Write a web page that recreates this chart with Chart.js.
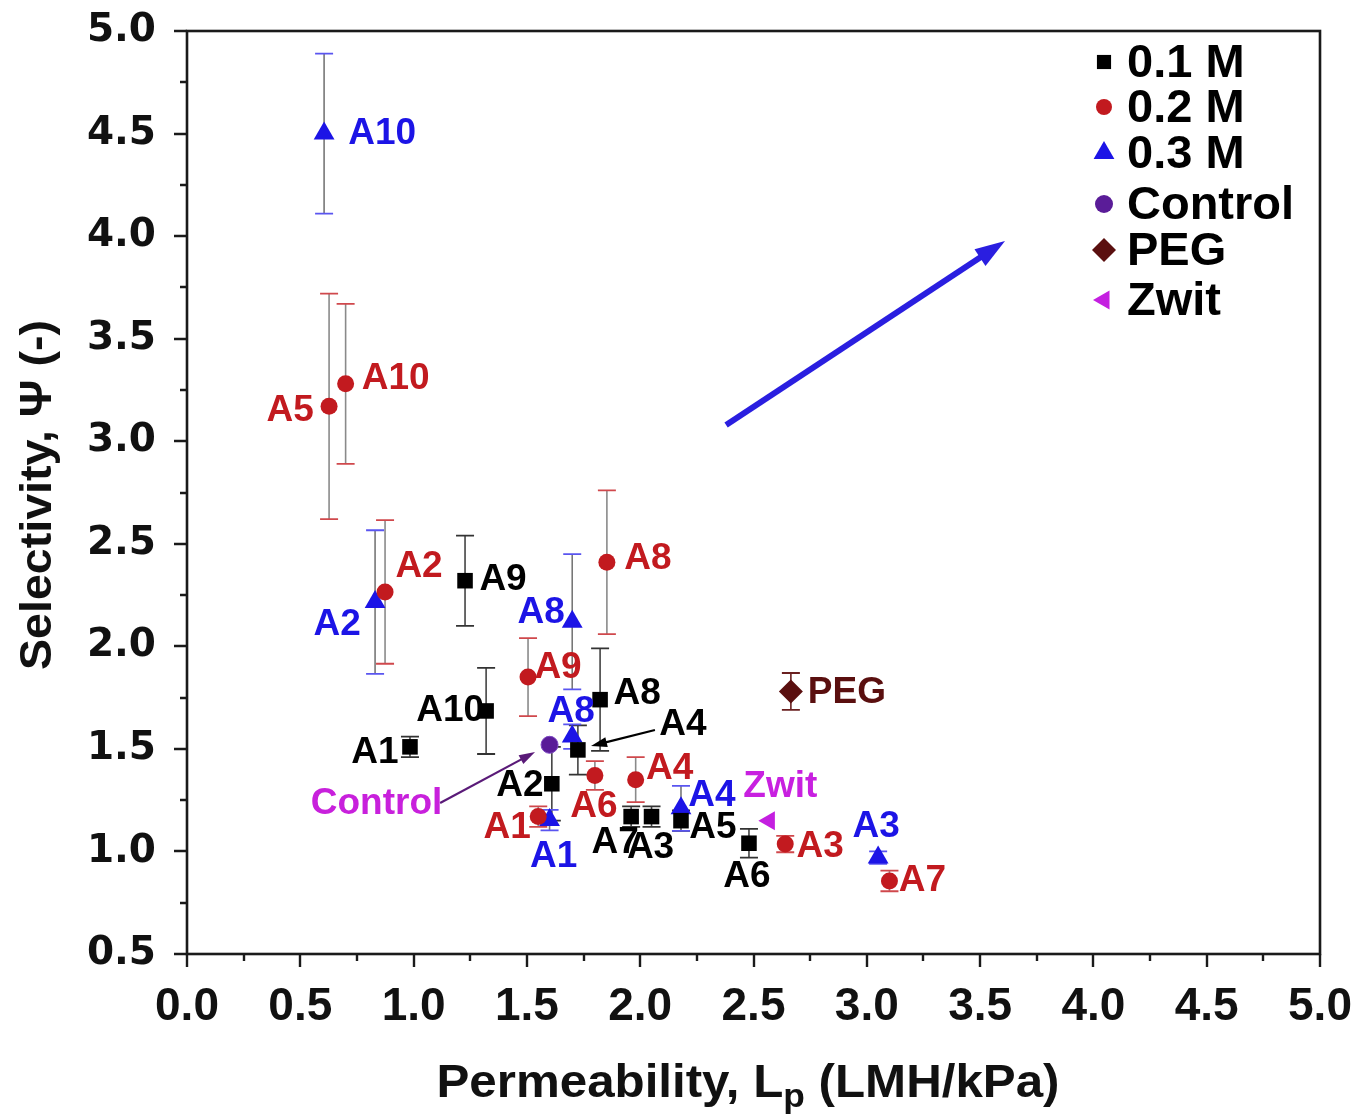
<!DOCTYPE html>
<html><head><meta charset="utf-8">
<script src="https://cdn.jsdelivr.net/npm/chart.js@4.4.1/dist/chart.umd.min.js"></script>
<style>html,body{margin:0;padding:0;background:#fff}#wrap{width:1371px;height:1117px;position:relative}canvas{display:block}</style>
</head><body><div id="wrap"><canvas id="c" width="1371" height="1117" style="width:1371px;height:1117px"></canvas></div>
<script>
// ---------- DATA ----------
const xTickVals = [0,0.5,1,1.5,2,2.5,3,3.5,4,4.5,5];
const xTickLabels = ["0.0","0.5","1.0","1.5","2.0","2.5","3.0","3.5","4.0","4.5","5.0"];
const yTickVals = [0.5,1,1.5,2,2.5,3,3.5,4,4.5,5];
const yTickLabels = ["0.5","1.0","1.5","2.0","2.5","3.0","3.5","4.0","4.5","5.0"];

const seriesNames = ["0.1 M","0.2 M","0.3 M","Control","PEG","Zwit"];

const names01 = ["A1","A2","A3","A4","A5","A6","A7","A8","A9","A10"];
const lp01    = [0.984,1.61,2.05,1.725,2.18,2.48,1.96,1.823,1.227,1.32];
const sel01   = [1.51,1.33,1.17,1.495,1.15,1.04,1.17,1.74,2.32,1.685];
const err01   = [0.05,0.18,0.05,0.12,0.05,0.07,0.05,0.25,0.22,0.21];

const names02 = ["A1","A2","A3","A4","A5","A6","A7","A8","A9","A10"];
const lp02    = [1.55,0.874,2.64,1.98,0.627,1.80,3.10,1.853,1.505,0.70];
const sel02   = [1.17,2.265,1.036,1.35,3.17,1.37,0.856,2.41,1.85,3.28];
const err02   = [0.05,0.35,0.04,0.11,0.55,0.07,0.05,0.35,0.19,0.39];

const names03 = ["A1","A2","A3","A4","A8","A8","A10"];
const lp03    = [1.60,0.83,3.05,2.18,1.70,1.70,0.605];
const sel03   = [1.153,2.216,0.97,1.21,2.12,1.56,4.50];
const err03   = [0.05,0.35,0.03,0.11,0.33,0.06,0.39];

const namesCtrl = ["Control"]; const lpCtrl = [1.60]; const selCtrl = [1.52]; const errCtrl = [0];
const namesPeg  = ["PEG"];     const lpPeg  = [2.665]; const selPeg = [1.78]; const errPeg = [0.09];
const namesZw   = ["Zwit"];    const lpZw   = [2.57]; const selZw  = [1.15]; const errZw = [0];

// annotation arrows in data units: [fromX, fromY, toX, toY]
const arrowTrend   = [2.379, 3.079, 3.61, 3.976];
const arrowControl = [1.117, 1.236, 1.536, 1.485];
const arrowA4      = [2.065, 1.592, 1.783, 1.514];

// ---------- STYLE ----------
const COL = { k:'#000000', r:'#c21a1f', b:'#1c14e6', ctrl:'#5a1c98', peg:'#5a0f0f', zw:'#c41fe0' };
const labelColors = ['#000000','#c21a1f','#1c14e6','#c820dc','#5a0f0f','#c820e0'];
const labelOffsets = [
  [[-35,5],[-32,1],[-1,30],[105,-26],[32,6],[-2,33],[-16,25],[37,-7],[38,-2],[-36,-1]],
  [[-31,10],[34,-26],[35,2],[34,-12],[-39,3],[-1,30],[33,-1],[41,-4],[30,-10],[50,-6]],
  [[4,36],[-38,22],[-2,-32],[31,-14],[-31,-10],[-1,-26],[58,-1]],
  [[-173,58]],
  [[56,0]],
  [[11,-35]]
];
const errCapColors = ['#333333','#d0484c','#5a55f0','#555555','#6a2020','#555555'];
const errLineColors = ['#444444','#8a8a8a','#777777','#555555','#6a2020','#555555'];
const legendRows = [62,107,153,204,250,300];

const namesAll = [names01,names02,names03,namesCtrl,namesPeg,namesZw];
const errAll = [err01,err02,err03,errCtrl,errPeg,errZw];

function pts(xs, ys){ return xs.map((x,i)=>({x:x, y:ys[i]})); }

const FONT = "'Liberation Sans', Arial, sans-serif";

function drawArrow(ctx, x1,y1,x2,y2, color, lw, hl, hw){
  const ang = Math.atan2(y2-y1, x2-x1);
  const bx = x2 - hl*Math.cos(ang), by = y2 - hl*Math.sin(ang);
  ctx.save();
  ctx.strokeStyle = color; ctx.fillStyle = color; ctx.lineWidth = lw; ctx.lineCap='butt';
  ctx.beginPath(); ctx.moveTo(x1,y1); ctx.lineTo(bx + Math.cos(ang)*2, by + Math.sin(ang)*2); ctx.stroke();
  ctx.beginPath();
  ctx.moveTo(x2,y2);
  ctx.lineTo(bx + hw/2*Math.sin(ang), by - hw/2*Math.cos(ang));
  ctx.lineTo(bx - hw/2*Math.sin(ang), by + hw/2*Math.cos(ang));
  ctx.closePath(); ctx.fill();
  ctx.restore();
}

function zeroPad(s){ s.paddingTop = 0; s.paddingBottom = 0; s.paddingLeft = 0; s.paddingRight = 0; }

const overlay = {
  id: 'overlay',
  beforeDatasetsDraw(chart){
    const ctx = chart.ctx, xs = chart.scales.x, ys = chart.scales.y;
    ctx.save();
    chart.data.datasets.forEach((ds, si) => {
      const errs = errAll[si];
      ds.data.forEach((p, i) => {
        const e = errs[i]; if (!e) return;
        const px = xs.getPixelForValue(p.x);
        const pt = ys.getPixelForValue(p.y + e), pb = ys.getPixelForValue(p.y - e);
        ctx.strokeStyle = errLineColors[si]; ctx.lineWidth = 1.6;
        ctx.beginPath(); ctx.moveTo(px, pt); ctx.lineTo(px, pb); ctx.stroke();
        ctx.strokeStyle = errCapColors[si]; ctx.lineWidth = 1.8;
        ctx.beginPath(); ctx.moveTo(px-9, pt); ctx.lineTo(px+9, pt); ctx.moveTo(px-9, pb); ctx.lineTo(px+9, pb); ctx.stroke();
      });
    });
    ctx.restore();
  },
  afterDatasetsDraw(chart){
    const ctx = chart.ctx, xs = chart.scales.x, ys = chart.scales.y;
    const A = (a)=>[xs.getPixelForValue(a[0]), ys.getPixelForValue(a[1]), xs.getPixelForValue(a[2]), ys.getPixelForValue(a[3])];
    let t = A(arrowTrend); drawArrow(ctx, t[0],t[1],t[2],t[3], '#2a1ee0', 6, 30, 20);
    t = A(arrowControl); drawArrow(ctx, t[0],t[1],t[2],t[3], '#5a1a78', 2.2, 16, 10);
    t = A(arrowA4); drawArrow(ctx, t[0],t[1],t[2],t[3], '#000000', 2.2, 16, 10);
    ctx.save();
    ctx.font = "bold 37px " + FONT; ctx.textAlign = 'center'; ctx.textBaseline = 'middle';
    chart.data.datasets.forEach((ds, si) => {
      ctx.fillStyle = labelColors[si];
      ds.data.forEach((p, i) => {
        const o = labelOffsets[si][i];
        ctx.fillText(namesAll[si][i], xs.getPixelForValue(p.x) + o[0], ys.getPixelForValue(p.y) + o[1] + 1);
      });
    });
    ctx.restore();
  },
  afterDraw(chart){
    const ctx = chart.ctx, a = chart.chartArea, xs = chart.scales.x, ys = chart.scales.y;
    ctx.save();
    ctx.strokeStyle = '#1a1a1a'; ctx.lineWidth = 2.6;
    ctx.strokeRect(a.left, a.top, a.right - a.left, a.bottom - a.top);
    ctx.lineWidth = 2.4;
    ctx.beginPath();
    for (let k = 0; k <= 20; k++) {
      const v = k * 0.25, major = (k % 2 === 0), len = major ? 13 : 7;
      const px = Math.round(xs.getPixelForValue(v));
      ctx.moveTo(px, a.bottom); ctx.lineTo(px, a.bottom + len);
    }
    for (let k = 0; k <= 18; k++) {
      const v = 0.5 + k * 0.25, major = (k % 2 === 0), len = major ? 13 : 7;
      const py = Math.round(ys.getPixelForValue(v));
      ctx.moveTo(a.left, py); ctx.lineTo(a.left - len, py);
    }
    ctx.stroke();
    chart.data.datasets.forEach((ds, si) => {
      const y = legendRows[si];
      ctx.fillStyle = ds.backgroundColor; ctx.strokeStyle = ds.borderColor;
      Chart.helpers.drawPoint(ctx, { pointStyle: ds.pointStyle, radius: ds.legendRadius, rotation: ds.rotation || 0, borderWidth: 0 }, 1104, y);
      ctx.fillStyle = '#000'; ctx.font = "bold 47px " + FONT; ctx.textAlign = 'left'; ctx.textBaseline = 'middle';
      ctx.fillText(seriesNames[si], 1127, y + 2);
    });
    const partA = "Permeability, L", partB = "p", partC = " (LMH/kPa)";
    ctx.font = "bold 46px " + FONT; const wA = ctx.measureText(partA).width, wC = ctx.measureText(partC).width;
    ctx.font = "bold 33px " + FONT; const wB = ctx.measureText(partB).width;
    const total = wA + wB + wC, target = 623, sx = target / total;
    ctx.save();
    ctx.translate(748 - target/2, 1097); ctx.scale(sx, 1);
    ctx.textAlign = 'left'; ctx.textBaseline = 'alphabetic'; ctx.fillStyle = '#111';
    ctx.font = "bold 46px " + FONT; ctx.fillText(partA, 0, 0);
    ctx.font = "bold 33px " + FONT; ctx.fillText(partB, wA, 10);
    ctx.font = "bold 46px " + FONT; ctx.fillText(partC, wA + wB, 0);
    ctx.restore();
    const yt = "Selectivity, \u03A8 (-)";
    ctx.font = "bold 44px " + FONT; const wy = ctx.measureText(yt).width;
    ctx.save();
    ctx.translate(51, 495); ctx.rotate(-Math.PI/2); ctx.scale(350 / wy, 1);
    ctx.textAlign = 'center'; ctx.textBaseline = 'alphabetic'; ctx.fillStyle = '#111';
    ctx.fillText(yt, 0, 0);
    ctx.restore();
    ctx.restore();
  }
};

new Chart(document.getElementById('c'), {
  type: 'scatter',
  data: {
    datasets: [
      { label: seriesNames[0], data: pts(lp01, sel01), pointStyle: 'rect', pointRadius: 11, legendRadius: 10, backgroundColor: COL.k, borderColor: COL.k, borderWidth: 0 },
      { label: seriesNames[1], data: pts(lp02, sel02), pointStyle: 'circle', pointRadius: 8.5, legendRadius: 8, backgroundColor: COL.r, borderColor: COL.r, borderWidth: 0 },
      { label: seriesNames[2], data: pts(lp03, sel03), pointStyle: 'triangle', pointRadius: 12, legendRadius: 12, backgroundColor: COL.b, borderColor: COL.b, borderWidth: 0 },
      { label: seriesNames[3], data: pts(lpCtrl, selCtrl), pointStyle: 'circle', pointRadius: 8.5, legendRadius: 9, backgroundColor: COL.ctrl, borderColor: '#7a44c0', borderWidth: 1 },
      { label: seriesNames[4], data: pts(lpPeg, selPeg), pointStyle: 'rectRot', pointRadius: 12, legendRadius: 12, backgroundColor: COL.peg, borderColor: COL.peg, borderWidth: 0 },
      { label: seriesNames[5], data: pts(lpZw, selZw), pointStyle: 'triangle', rotation: -90, pointRotation: -90, pointRadius: 11, legendRadius: 11, backgroundColor: COL.zw, borderColor: COL.zw, borderWidth: 0 }
    ]
  },
  options: {
    responsive: false,
    animation: false,
    events: [],
    layout: { padding: { left: 0, top: 31, right: 51, bottom: 0 } },
    plugins: { legend: { display: false }, tooltip: { enabled: false }, title: { display: false } },
    scales: {
      x: {
        type: 'linear', min: 0, max: 5,
        afterFit(s){ s.height = 163; zeroPad(s); },
        afterBuildTicks(s){ s.ticks = xTickVals.map(v => ({ value: v })); },
        grid: { display: false, drawTicks: false }, border: { display: false },
        ticks: { padding: 26, color: '#111', maxRotation: 0, autoSkip: false,
          font: { family: FONT, size: 46, weight: 'bold' },
          callback: (v, i) => xTickLabels[i] }
      },
      y: {
        type: 'linear', min: 0.5, max: 5,
        afterFit(s){ s.width = 187; zeroPad(s); },
        afterBuildTicks(s){ s.ticks = yTickVals.map(v => ({ value: v })); },
        grid: { display: false, drawTicks: false }, border: { display: false },
        ticks: { padding: 31, color: '#111', autoSkip: false,
          font: { family: "'DejaVu Sans', sans-serif", size: 39, weight: 'bold' },
          callback: (v, i) => yTickLabels[i] }
      }
    }
  },
  plugins: [overlay]
});
</script></body></html>
